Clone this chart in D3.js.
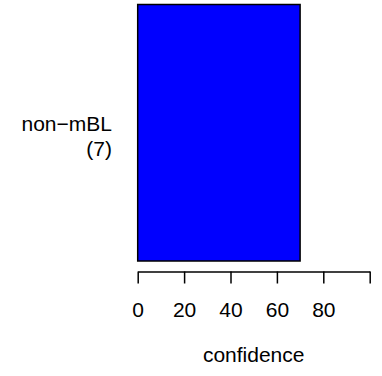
<!DOCTYPE html>
<html>
<head>
<meta charset="utf-8">
<script src="https://cdn.jsdelivr.net/npm/d3@7"></script>
<style>
  html, body { margin: 0; padding: 0; background: #fff; }
  svg text { font-family: "Liberation Sans", Arial, Helvetica, sans-serif; }
</style>
</head>
<body>
<svg id="chart" width="382" height="376"></svg>
<script>
// Group, its label lines and its confidence score
const categories = ["non\u2212mBL"];
const counts = [7];
const values = [70];
const tickValues = [0, 20, 40, 60, 80, 100];
const tickLabels = ["0", "20", "40", "60", "80", ""];
const axisTitle = "confidence";

const svg = d3.select("#chart");
const fontSize = 21;

const x = d3.scaleLinear().domain([0, 100]).range([137.7, 369.7]);
const y = d3.scaleBand().domain(categories).range([4.5, 261]).padding(0);

// Bars
svg.selectAll("rect.bar")
  .data(categories)
  .enter().append("rect")
  .attr("class", "bar")
  .attr("x", x(0))
  .attr("y", d => y(d))
  .attr("width", (d, i) => x(values[i]) - x(0))
  .attr("height", y.bandwidth())
  .attr("fill", "#0000ff")
  .attr("stroke", "#000")
  .attr("stroke-width", 1.5);

// Category labels, right aligned to the left of the bar
const lab = svg.selectAll("text.cat")
  .data(categories)
  .enter().append("text")
  .attr("class", "cat")
  .attr("text-anchor", "end")
  .attr("font-size", fontSize)
  .attr("fill", "#000");
lab.append("tspan")
  .attr("x", 112)
  .attr("y", d => y(d) + y.bandwidth() / 2 - 1.8)
  .text(d => d);
lab.append("tspan")
  .attr("x", 112)
  .attr("y", d => y(d) + y.bandwidth() / 2 + 23.2)
  .text((d, i) => "(" + counts[i] + ")");

// Bottom axis
const axis = d3.axisBottom(x)
  .tickValues(tickValues)
  .tickFormat((d, i) => tickLabels[i])
  .tickSizeInner(12)
  .tickSizeOuter(0)
  .tickPadding(18.3);

const gAxis = svg.append("g")
  .attr("transform", "translate(0,271.5)")
  .call(axis);
gAxis.select(".domain").attr("stroke", "#000").attr("stroke-width", 1.5);
gAxis.selectAll(".tick line").attr("stroke", "#000").attr("stroke-width", 1.5);
gAxis.selectAll(".tick text")
  .attr("font-size", fontSize)
  .attr("font-family", "Liberation Sans, Arial, Helvetica, sans-serif")
  .attr("fill", "#000");

// Axis title
svg.append("text")
  .attr("x", x(50))
  .attr("y", 362)
  .attr("text-anchor", "middle")
  .attr("font-size", fontSize)
  .attr("fill", "#000")
  .text(axisTitle);
</script>
</body>
</html>
